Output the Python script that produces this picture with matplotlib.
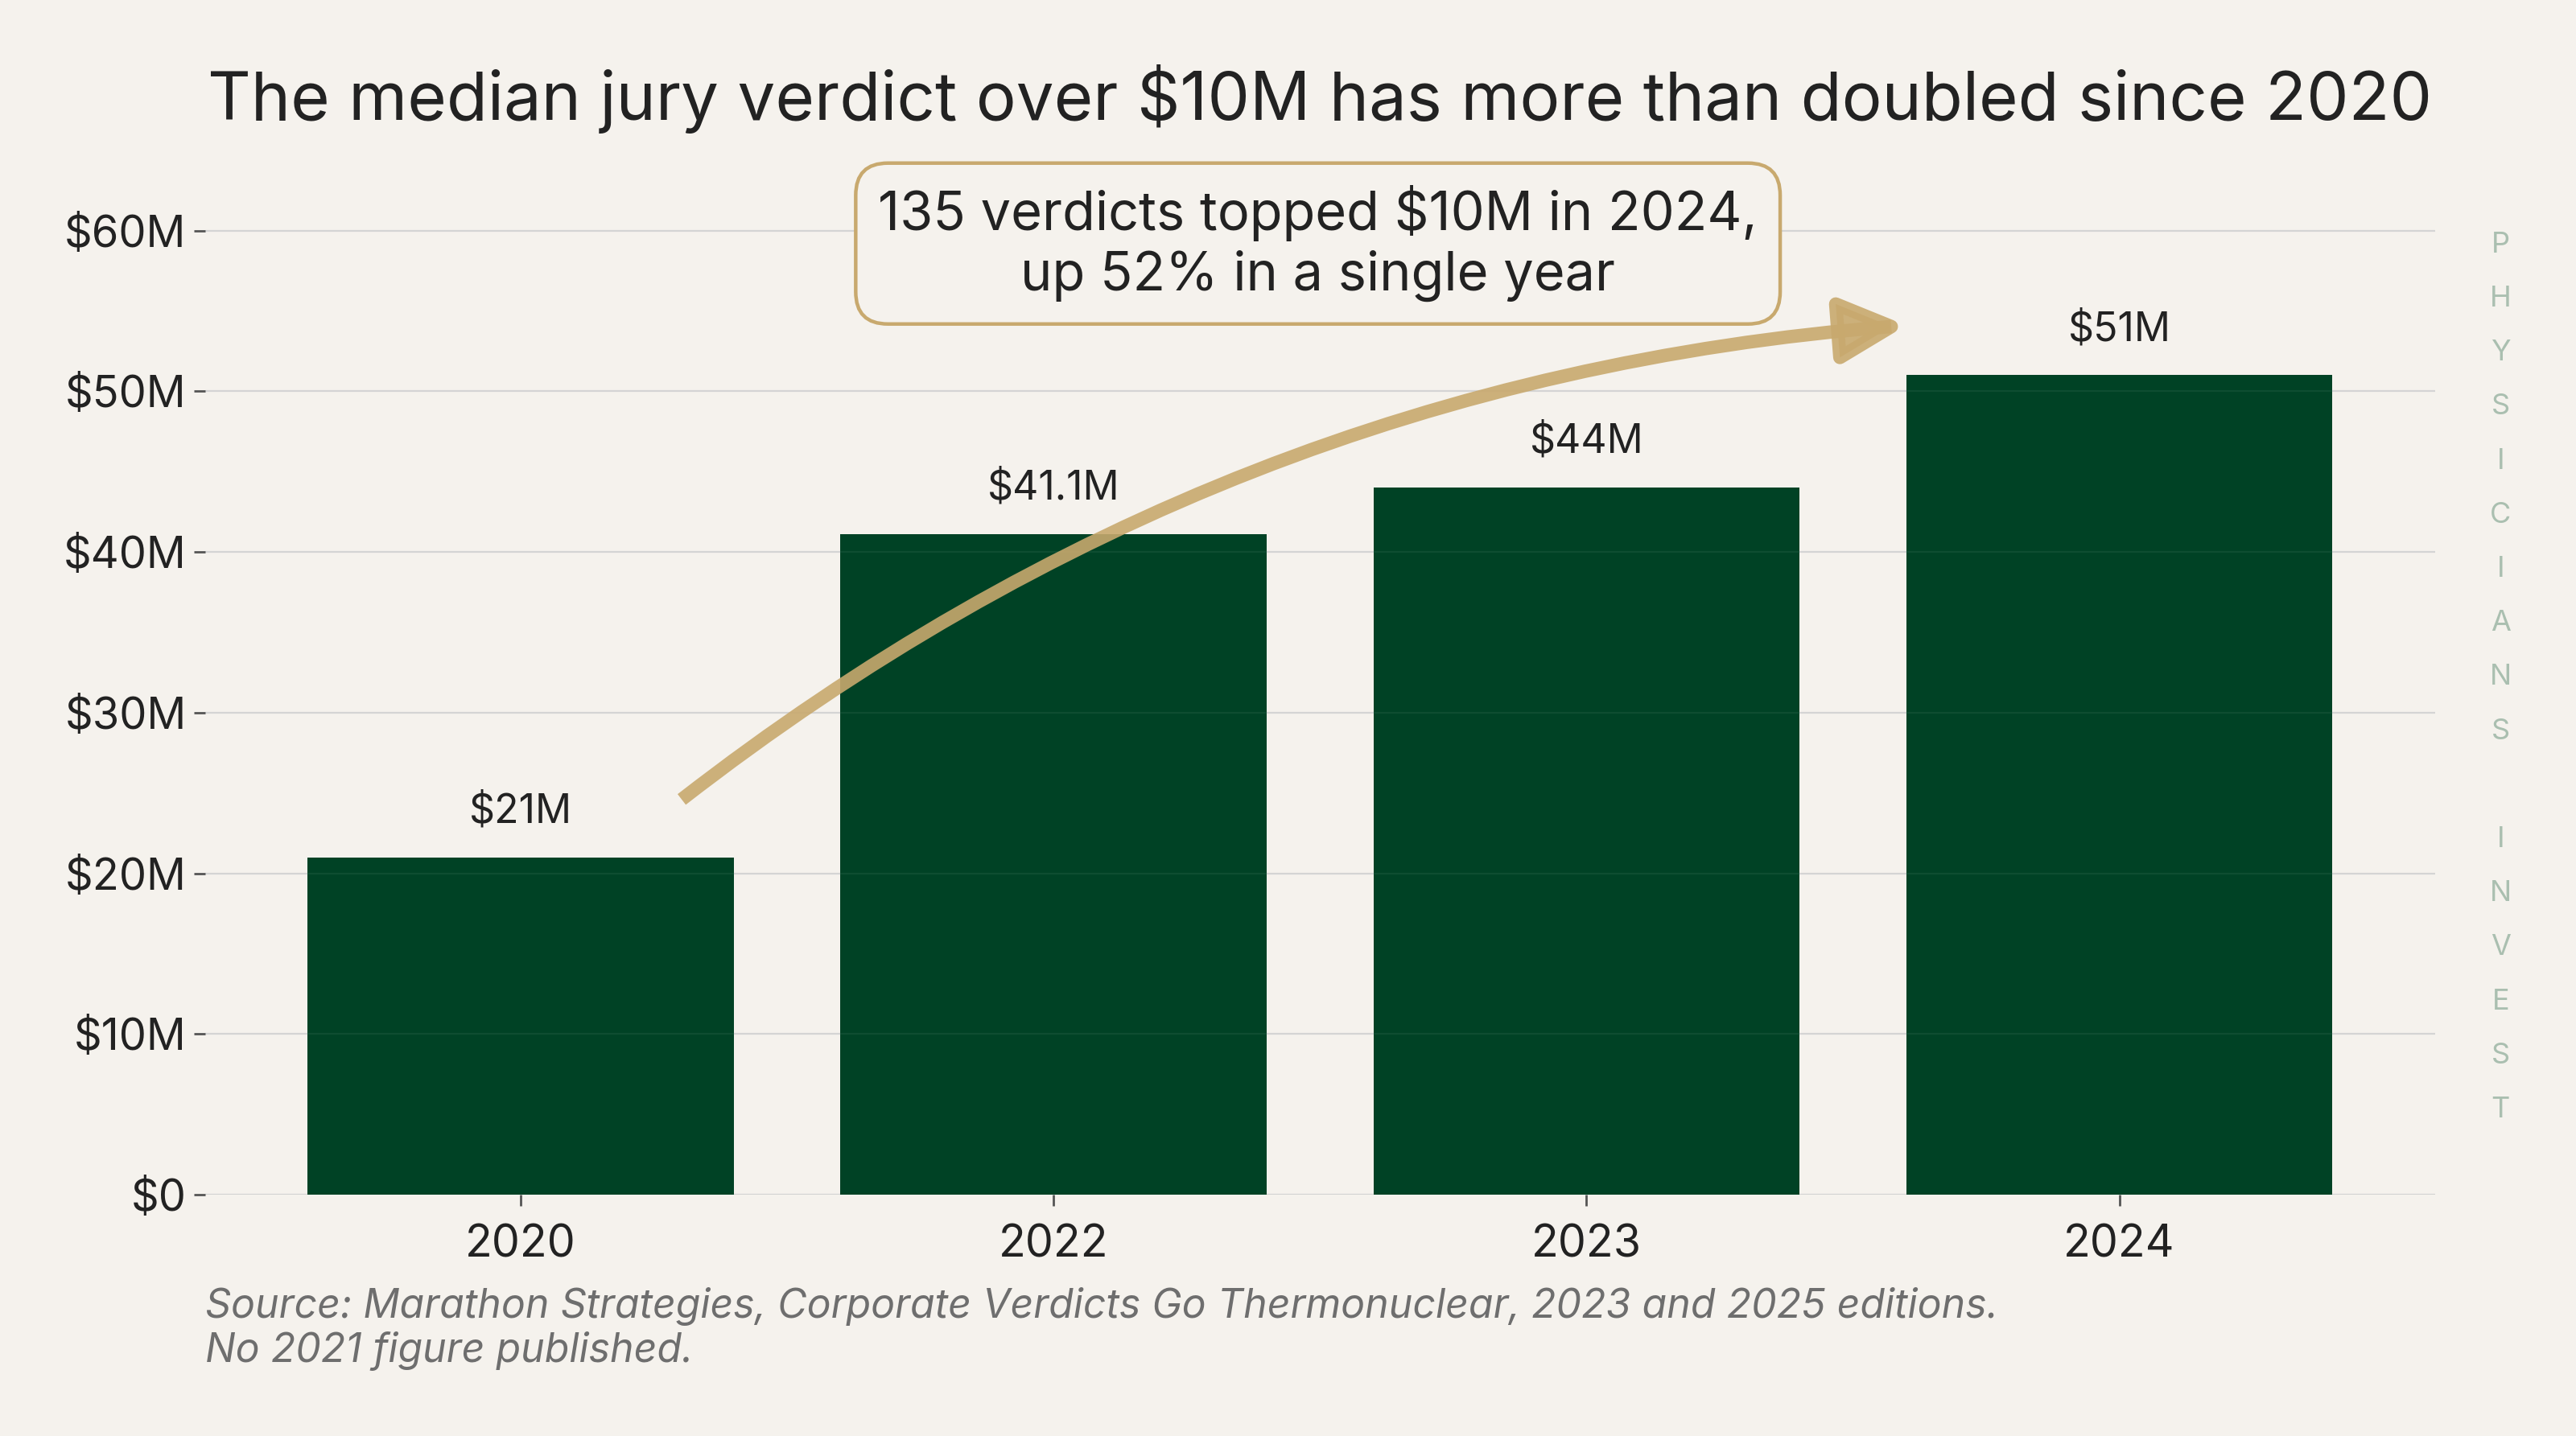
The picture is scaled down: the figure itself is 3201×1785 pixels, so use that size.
import matplotlib.pyplot as plt
from matplotlib.ticker import FuncFormatter

# data
years = ['2020', '2022', '2023', '2024']
median_verdict = [21, 41.1, 44, 51]   # $M
bar_labels = ['$21M', '$41.1M', '$44M', '$51M']
y_ticks = [0, 10, 20, 30, 40, 50, 60]

bg = '#F5F2ED'
green = '#004225'
tan = '#C8A96E'
ink = '#222222'

plt.rcParams['font.family'] = ['Inter', 'DejaVu Sans']

fig = plt.figure(figsize=(16.005, 8.925), dpi=200, facecolor=bg)
ax = fig.add_axes([0.0797, 0.168, 0.8655, 0.705])
ax.set_facecolor(bg)

x = range(len(years))
bars = ax.bar(x, median_verdict, width=0.8, color=green, zorder=2)

for b, lab in zip(bars, bar_labels):
    ax.annotate(lab, (b.get_x() + b.get_width() / 2, b.get_height()),
                xytext=(0, 12), textcoords='offset points',
                ha='center', va='bottom', fontsize=18, color=ink)

ax.set_xlim(-0.592, 3.592)
ax.set_ylim(0, 63)
ax.set_xticks(list(x))
ax.set_xticklabels(years)
ax.set_yticks(y_ticks)
ax.yaxis.set_major_formatter(FuncFormatter(lambda v, p: '$0' if v == 0 else '${:d}M'.format(int(v))))
ax.tick_params(axis='both', labelsize=19.5, colors='#555555', labelcolor=ink, length=5, width=1)
ax.tick_params(axis='x', labelsize=20, pad=8)
ax.grid(axis='y', color='#d2d2d2', linewidth=0.8, zorder=1)
ax.set_axisbelow(True)
# faint gridlines showing over the bars
for t in y_ticks[1:]:
    ax.axhline(t, color='white', alpha=0.06, linewidth=0.8, zorder=3)
for s in ax.spines.values():
    s.set_visible(False)

# curved arrow
ax.annotate('', xy=(2.6, 54.1), xytext=(0.302, 24.6),
            arrowprops=dict(arrowstyle='-|>,head_length=1.2,head_width=0.6',
                            connectionstyle='arc3,rad=-0.15',
                            color=tan, lw=6, alpha=0.9, mutation_scale=20,
                            shrinkA=0, shrinkB=0, joinstyle='round', capstyle='butt'),
            zorder=4)

ax.text(1.496, 59.2, '135 verdicts topped $10M in 2024,\nup 52% in a single year',
        ha='center', va='center', fontsize=24, color=ink, linespacing=1.2, zorder=5,
        bbox=dict(boxstyle='round,pad=0.42,rounding_size=0.6', facecolor=bg,
                  edgecolor=tan, linewidth=1.6))

fig.text(0.5124, 0.931, 'The median jury verdict over $10M has more than doubled since 2020',
         ha='center', va='center', fontsize=30, color=ink)

fig.text(0.0797, 0.090, 'Source: Marathon Strategies, Corporate Verdicts Go Thermonuclear, 2023 and 2025 editions.',
         ha='left', va='center', fontsize=18, style='italic', color='#6e6e6e')
fig.text(0.0797, 0.059, 'No 2021 figure published.',
         ha='left', va='center', fontsize=18, style='italic', color='#6e6e6e')

# vertical watermark
mark = 'PHYSICIANS INVEST'
for i, ch in enumerate(mark):
    fig.text(0.9707, 1 - (149 + i * 32.9) / 874, ch, ha='center', va='center',
             fontsize=13, color='#AABFB0')

fig.savefig('out.png', dpi=200, facecolor=bg)
